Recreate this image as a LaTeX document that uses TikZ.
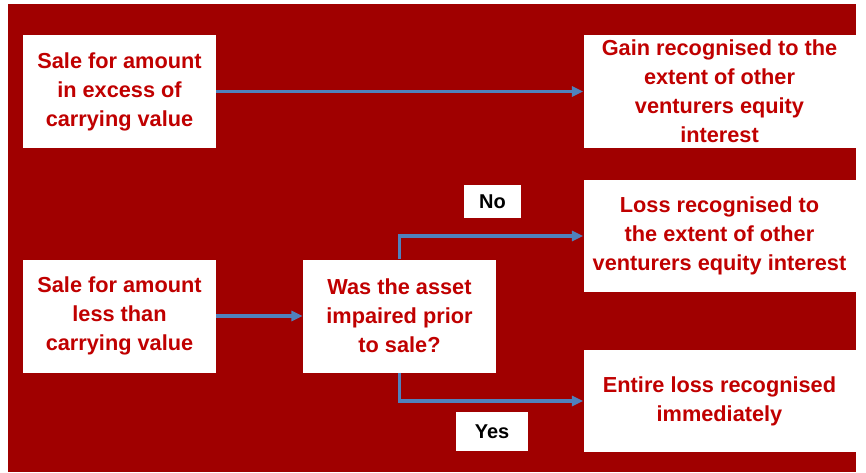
\documentclass[tikz,border=0pt]{standalone}
\usepackage{fontspec}
\setmainfont{Liberation Sans}
\usetikzlibrary{arrows.meta}
\definecolor{bgred}{RGB}{160,0,0}
\definecolor{txtred}{RGB}{192,0,0}
\definecolor{flowblue}{RGB}{79,129,189}
\tikzset{
  box/.style={fill=white, text=txtred, align=center, inner sep=0pt,
    font=\bfseries\fontsize{16.3}{21.7}\selectfont},
  answer/.style={fill=white, text=black, inner sep=0pt,
    font=\bfseries\fontsize{15}{17}\selectfont},
  flow/.style={draw=flowblue, line width=2.5pt, -{Triangle[length=8.5pt,width=7.5pt]}}
}
\begin{document}
\begin{tikzpicture}[x=0.75pt,y=-0.75pt]
    % Page and the red panel
    \useasboundingbox[fill=white] (0,0) rectangle (866,472);
    \fill[bgred] (8,4) rectangle (856,472);

    % The boxes
    \node[box, minimum width=144.75pt, minimum height=84.75pt] (excess) at (119.5,91.5)
      {Sale for amount\\in excess of\\carrying value};
    \node[box, minimum width=204pt, minimum height=84.75pt] (gain) at (719.5,91.5)
      {Gain recognised to the\\extent of other\\venturers equity\\interest};
    \node[box, minimum width=144.75pt, minimum height=84.75pt] (less) at (119.5,316)
      {Sale for amount\\less than\\carrying value};
    \node[box, minimum width=144.75pt, minimum height=84.75pt] (impaired) at (399.5,316)
      {Was the asset\\impaired prior\\to sale?};
    \node[box, minimum width=204pt, minimum height=84pt] (loss) at (719.5,236)
      {Loss recognised to\\the extent of other\\venturers equity interest};
    \node[box, minimum width=204pt, minimum height=76.5pt] (entire) at (719.5,401)
      {Entire loss recognised\\immediately};

    % The answers
    \node[answer, minimum width=42.75pt, minimum height=24.75pt] (no) at (492.5,201.5) {No};
    \node[answer, minimum width=54pt, minimum height=29.25pt] (yes) at (492,431.5) {Yes};

    % The arrows
    \draw[flow] (excess.east) -- (gain.west);
    \draw[flow] (less.east) -- (impaired.west);
    \draw[flow] (impaired.north) |- (loss.west);
    \draw[flow] (impaired.south) |- (entire.west);
\end{tikzpicture}
\end{document}
